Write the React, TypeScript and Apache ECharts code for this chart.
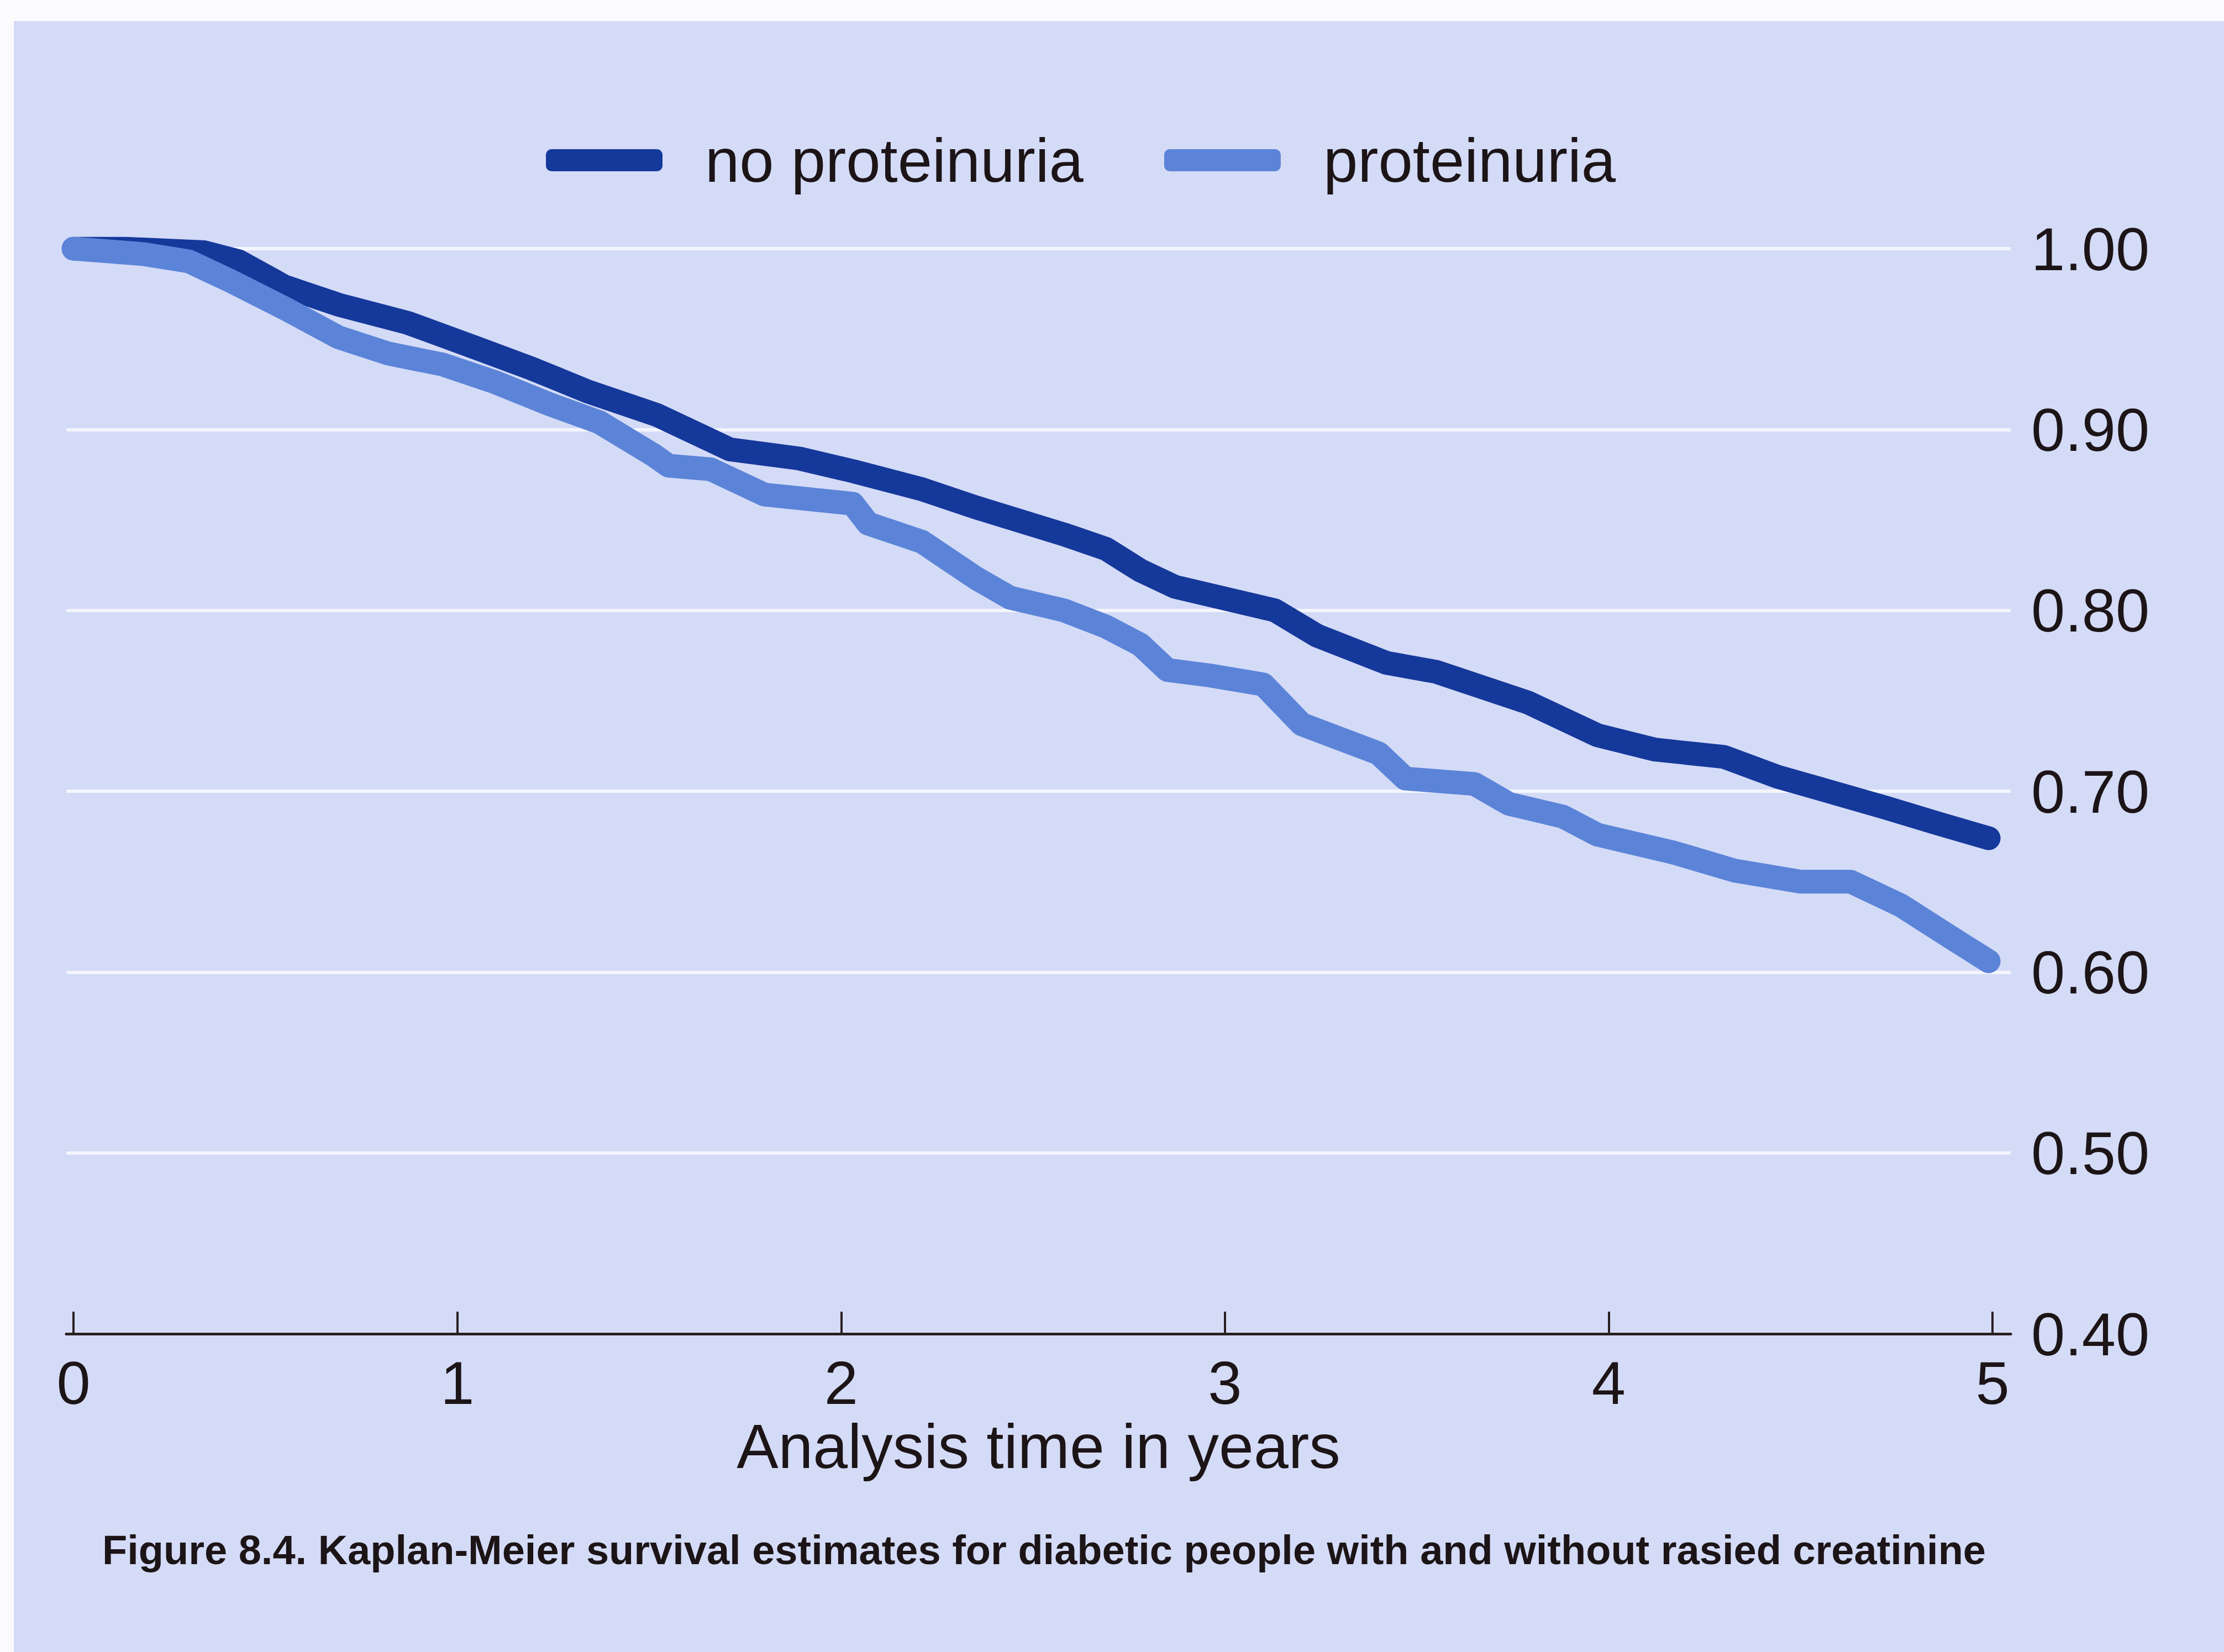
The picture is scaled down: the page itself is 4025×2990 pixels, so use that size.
import React, { useEffect, useRef } from "react";
import * as echarts from "echarts";

const X_TICKS = [0, 1, 2, 3, 4, 5];

const NOPROT_X = [0, 0.13, 0.34, 0.43, 0.55, 0.69, 0.87, 1.05, 1.19, 1.34, 1.52, 1.71, 1.89, 2.03, 2.21, 2.35, 2.58, 2.69, 2.78, 2.87, 3.13, 3.24, 3.42, 3.55, 3.79, 3.97, 4.12, 4.3, 4.44, 4.72, 4.86, 4.99];
const NOPROT_Y = [1.0, 1.0, 0.998, 0.993, 0.979, 0.969, 0.959, 0.945, 0.934, 0.921, 0.908, 0.889, 0.884, 0.877, 0.867, 0.857, 0.842, 0.834, 0.822, 0.813, 0.8, 0.786, 0.771, 0.766, 0.749, 0.731, 0.723, 0.719, 0.708, 0.691, 0.682, 0.674];

const PROT_X = [0, 0.18, 0.3, 0.41, 0.55, 0.69, 0.82, 0.96, 1.1, 1.24, 1.37, 1.51, 1.55, 1.66, 1.8, 2.03, 2.07, 2.21, 2.35, 2.44, 2.58, 2.69, 2.78, 2.85, 2.96, 3.1, 3.2, 3.4, 3.47, 3.65, 3.74, 3.88, 3.97, 4.17, 4.33, 4.5, 4.63, 4.76, 4.9, 4.99];
const PROT_Y = [1.0, 0.997, 0.993, 0.982, 0.967, 0.951, 0.942, 0.936, 0.926, 0.914, 0.904, 0.886, 0.88, 0.878, 0.864, 0.859, 0.848, 0.838, 0.818, 0.807, 0.8, 0.791, 0.781, 0.767, 0.764, 0.759, 0.737, 0.721, 0.707, 0.704, 0.693, 0.686, 0.676, 0.666, 0.656, 0.65, 0.65, 0.637, 0.618, 0.606];

const SERIES_NAMES = ["no proteinuria", "proteinuria"];
const X_TITLE = "Analysis time in years";
const CAPTION = "Figure 8.4. Kaplan-Meier survival estimates for diabetic people with and without rasied creatinine";

const FONT = "'Liberation Sans', Arial, Helvetica, sans-serif";

export default function App() {
  const ref = useRef<HTMLDivElement>(null);
  useEffect(() => {
    if (!ref.current) return;
    const chart = echarts.init(ref.current, undefined, { renderer: "svg" });
    const zip = (xs: number[], ys: number[]) => xs.map((x, i) => [x, ys[i]]);
    chart.setOption({
      animation: false,
      backgroundColor: "transparent",
      title: {
        text: CAPTION,
        left: 185,
        top: 2768,
        padding: 0,
        textStyle: { fontFamily: FONT, fontSize: 74, fontWeight: "bold", color: "#1c1416" },
      },
      legend: {
        left: 988,
        top: 234,
        padding: 0,
        itemWidth: 211,
        itemHeight: 40,
        itemGap: 146,
        icon: "roundRect",
        data: SERIES_NAMES,
        textStyle: { fontFamily: FONT, fontSize: 112, color: "#1c1416", padding: [0, 0, 0, 72] },
      },
      grid: { left: 120, right: 386, top: 450, bottom: 576 },
      xAxis: {
        type: "value",
        min: -0.019,
        max: 5.0475,
        name: X_TITLE,
        nameLocation: "middle",
        nameGap: 114,
        nameTextStyle: { fontFamily: FONT, fontSize: 113, color: "#1c1416" },
        axisLine: { show: true, onZero: false, lineStyle: { color: "#2a1f22", width: 5 } },
        axisTick: { show: true, inside: true, length: 40, customValues: X_TICKS, lineStyle: { color: "#2a1f22", width: 4 } },
        axisLabel: { show: true, margin: 33, customValues: X_TICKS, fontFamily: FONT, fontSize: 110, color: "#1c1416", formatter: (v: number) => String(Math.round(v)) },
        splitLine: { show: false },
      },
      yAxis: {
        type: "value",
        position: "right",
        min: 0.4,
        max: 1.0,
        interval: 0.1,
        axisLine: { show: false },
        axisTick: { show: false },
        axisLabel: { margin: 37, fontFamily: FONT, fontSize: 110, color: "#1c1416", formatter: (v: number) => v.toFixed(2) },
        splitLine: { show: true, lineStyle: { color: "#f4f5fd", width: 6 } },
      },
      series: [
        {
          name: SERIES_NAMES[0],
          type: "line",
          data: zip(NOPROT_X, NOPROT_Y),
          showSymbol: false,
          symbol: "none",
          color: "#15389b",
          lineStyle: { width: 43, color: "#15389b", cap: "round", join: "round" },
        },
        {
          name: SERIES_NAMES[1],
          type: "line",
          data: zip(PROT_X, PROT_Y),
          showSymbol: false,
          symbol: "none",
          color: "#5b84d8",
          lineStyle: { width: 43, color: "#5b84d8", cap: "round", join: "round" },
        },
      ],
    });
    return () => chart.dispose();
  }, []);
  return (
    <div style={{ position: "absolute", left: 0, top: 0, width: 4025, height: 2990, background: "#fbfbfe" }}>
      <div style={{ position: "absolute", left: 25, top: 38, width: 4000, height: 2952, background: "#d4dbf7" }} />
      <div ref={ref} style={{ position: "absolute", left: 0, top: 0, width: 4025, height: 2990 }} />
    </div>
  );
}
